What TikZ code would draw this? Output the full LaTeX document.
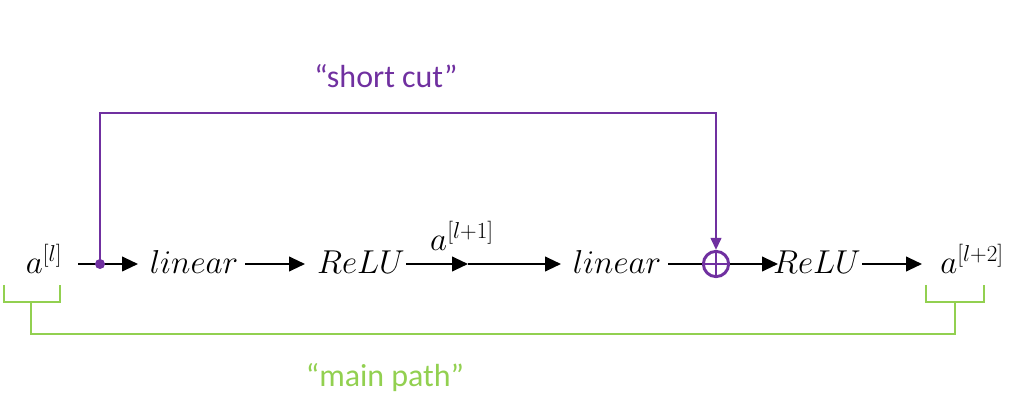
\documentclass[tikz,border=0pt]{standalone}
\usepackage{fontspec}
\setmainfont{Carlito}
\usetikzlibrary{arrows.meta}
\definecolor{scpurple}{HTML}{7030A0}
\definecolor{mpgreen}{HTML}{92D050}
\newcommand{\bigsupx}[1]{^{\mbox{\fontsize{19}{22}\selectfont$#1$}}}
\tikzset{
  px/.style={x=0.0264cm,y=-0.0264cm},
  mathlbl/.style={inner sep=0pt,font=\fontsize{25}{30}\selectfont},
  flow/.style={line width=1.5pt,-{Triangle[length=12pt,width=11pt]}},
  plainline/.style={line width=1.5pt},
  cutline/.style={line width=1.6pt,draw=scpurple},
  mainline/.style={line width=2.2pt,draw=mpgreen},
  caption/.style={font=\fontsize{24}{28}\selectfont}
}
\begin{document}
\begin{tikzpicture}[px]
\useasboundingbox (0,0) rectangle (1024,417);
% nodes
\node[mathlbl,anchor=base] (al) at (44,274) {$a\bigsupx{[l]}$};
\node[mathlbl,anchor=base] (lin1) at (194,274) {$linear$};
\node[mathlbl,anchor=base] (relu1) at (361,274) {$ReLU$};
\node[mathlbl,anchor=base] (lin2) at (617,274) {$linear$};
\node[mathlbl,anchor=base] (relu2) at (817,274) {$ReLU$};
\node[mathlbl,anchor=base] (al2) at (972,274) {$a\bigsupx{[l{+}2]}$};
\node[mathlbl,anchor=base] (al1) at (462,251) {$a\bigsupx{[l{+}1]}$};
\coordinate (dot) at (100,264);
\coordinate (s1) at (78,264);
\coordinate (e1) at (138,264);
\coordinate (s2) at (245,264);
\coordinate (e2) at (305,264);
\coordinate (s3) at (406,264);
\coordinate (m3) at (468,264);
\coordinate (e3) at (561,264);
\coordinate (s4) at (668,264);
\node[circle,draw=scpurple,line width=2.2pt,minimum size=19pt,inner sep=0pt] (plus) at (716,264) {};
\draw[scpurple,line width=2.2pt] (plus.north) -- (plus.south) (plus.west) -- (plus.east);
\coordinate (e5) at (778,264);
\coordinate (s6) at (862,264);
\coordinate (e6) at (922,264);
% main flow
\draw[flow] (s1) -- (e1);
\draw[flow] (s2) -- (e2);
\draw[flow] (s3) -- (m3);
\draw[flow] (m3) -- (e3);
\draw[plainline] (s4) -- (plus.west);
\draw[flow] (plus.east) -- (e5);
\draw[flow] (s6) -- (e6);
% short cut
\coordinate (c1) at (100,113);
\coordinate (c2) at (716,113);
\draw[cutline,-{Triangle[length=9pt,width=8pt]}] (dot) -- (c1) -- (c2) -- (plus.north);
\fill[scpurple] (dot) circle (5);
\node[caption,text=scpurple] (sclabel) at (386,76) {“short cut”};
% main path brackets
\coordinate (lb1) at (4,285);
\coordinate (lb2) at (4,302);
\coordinate (lb3) at (60,302);
\coordinate (lb4) at (60,285);
\coordinate (ls) at (31,302);
\coordinate (lsb) at (31,334);
\coordinate (rb1) at (926,285);
\coordinate (rb2) at (926,302);
\coordinate (rb3) at (984,302);
\coordinate (rb4) at (984,285);
\coordinate (rs) at (955,302);
\coordinate (rsb) at (955,334);
\draw[mainline] (lb1) -- (lb2) -- (lb3) -- (lb4);
\draw[mainline] (rb1) -- (rb2) -- (rb3) -- (rb4);
\draw[mainline] (ls) -- (lsb) -- (rsb) -- (rs);
\node[caption,text=mpgreen] (mplabel) at (385,378) {“main path”};
\end{tikzpicture}
\end{document}
